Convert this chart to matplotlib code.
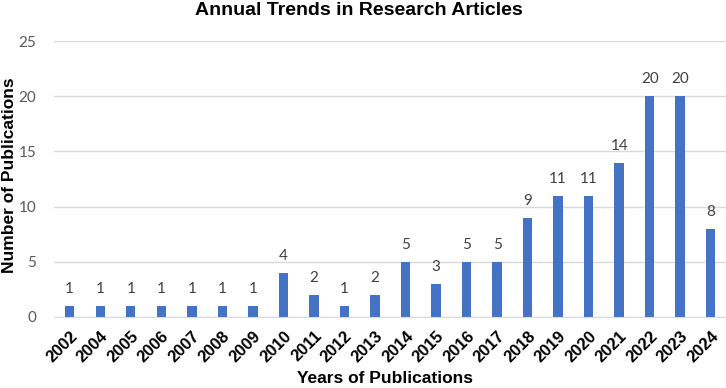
import matplotlib
matplotlib.use('Agg')
from matplotlib import pyplot as plt
import numpy as np

years = ['2002', '2004', '2005', '2006', '2007', '2008', '2009', '2010', '2011', '2012',
         '2013', '2014', '2015', '2016', '2017', '2018', '2019', '2020', '2021', '2022',
         '2023', '2024']
counts = [1, 1, 1, 1, 1, 1, 1, 4, 2, 1, 2, 5, 3, 5, 5, 9, 11, 11, 14, 20, 20, 8]
yticks = [0, 5, 10, 15, 20, 25]

bar_color = '#4472C4'
grid_color = '#D9D9D9'
num_font = 'Lato'
lab_font = 'Liberation Sans'

fig = plt.figure(figsize=(7.26, 3.88), dpi=100)
ax = fig.add_axes([0.075, 0.183, 0.925, 0.711])

x = np.arange(len(years))
bars = ax.bar(x, counts, width=0.31, color=bar_color, zorder=3)

for xi, v in zip(x, counts):
    ax.text(xi, v + 0.9, str(v), ha='center', va='bottom', fontsize=11,
            family=num_font, color='#404040')

ax.set_xlim(-0.5, len(years) - 0.5)
ax.set_ylim(0, 25)
ax.set_yticks(yticks)
ax.set_yticklabels([str(t) for t in yticks], family=num_font, fontsize=11, color='#595959')
ax.set_xticks(x)
ax.set_xticklabels(years, rotation=45, ha='right', rotation_mode='anchor',
                   fontsize=12, fontweight='bold', family=lab_font)
ax.tick_params(axis='both', length=0)
ax.tick_params(axis='y', pad=13)
ax.tick_params(axis='x', pad=8)

ax.grid(axis='y', color=grid_color, linewidth=1, zorder=0)
for s in ['left', 'right', 'top']:
    ax.spines[s].set_visible(False)
ax.spines['bottom'].set_color(grid_color)
ax.spines['bottom'].set_zorder(4)

fig.text(0.495, 0.995, 'Annual Trends in Research Articles', fontsize=14, fontweight='bold',
         family=lab_font, ha='center', va='top')
fig.text(0.53, 0.005, 'Years of Publications', fontsize=12.5, fontweight='bold',
         family=lab_font, ha='center', va='bottom')
fig.text(0.003, 0.548, 'Number of Publications', fontsize=12.5, fontweight='bold',
         family=lab_font, ha='left', va='center', rotation=90)

fig.savefig('out.png', dpi=100)
